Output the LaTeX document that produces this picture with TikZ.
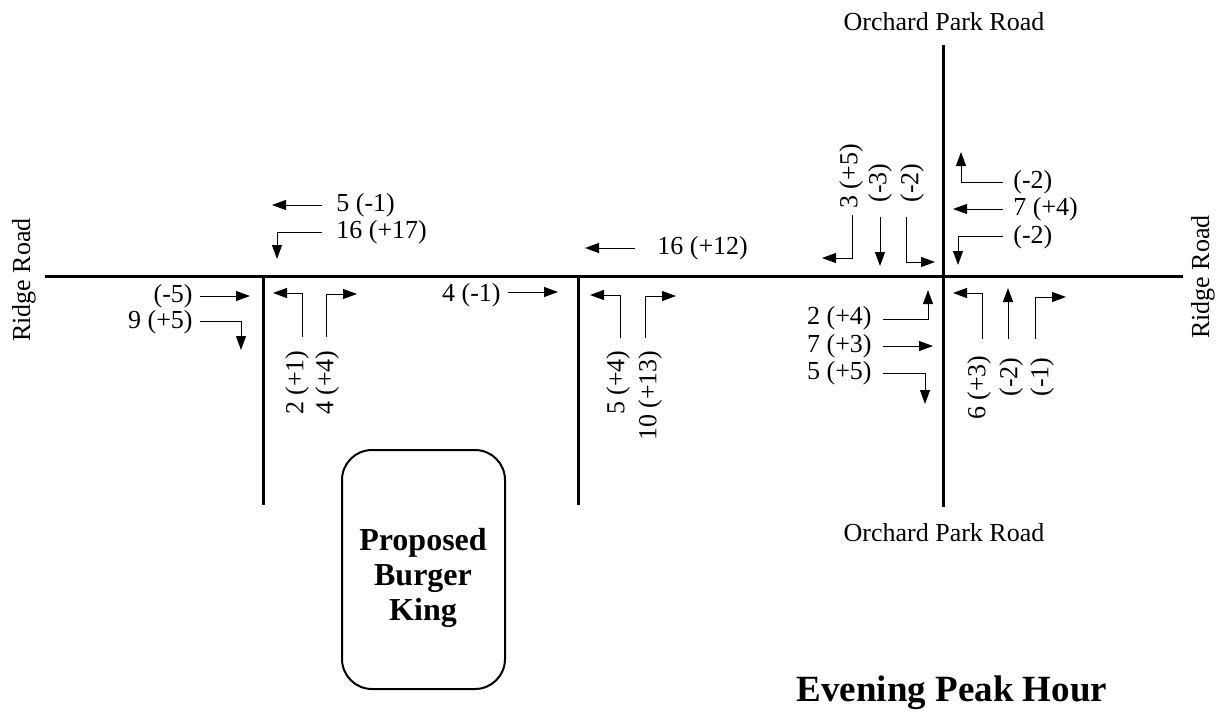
\documentclass[tikz,border=0pt]{standalone}
\usepackage{fontspec}
\setmainfont{Liberation Serif}
\usetikzlibrary{arrows.meta}
\tikzset{
    road/.style={line width=1.5pt},
    turn/.style={line width=0.5pt, -{Triangle[length=7pt,width=5pt]}},
    vol/.style={font=\fontsize{13}{15}\selectfont, inner sep=0pt},
    vvol/.style={vol, rotate=90},
}
\begin{document}
\begin{tikzpicture}[x=0.5pt, y=-0.5pt]
\useasboundingbox (0,0) rectangle (1220,717);
% roads
\draw[road] (45,276) -- (1183,276);
\draw[road] (263,276) -- (263,505);
\draw[road] (578,276) -- (578,505);
\draw[road] (943,45) -- (943,507);

\node[vvol] (ridgeW) at (24,280) {Ridge Road};
\node[vvol] (ridgeE) at (1203,277) {Ridge Road};
\node[vol] (orchN) at (944,22) {Orchard Park Road};
\node[vol] (orchS) at (944,533) {Orchard Park Road};

% west driveway
\draw[turn] (322,205) -- (272,205);
\node[vol, anchor=west] (wdA) at (336,205) {5 (-1)};
\draw[turn] (322,232) -| (277,259);
\node[vol, anchor=west] (wdB) at (336,232) {16 (+17)};
\draw[turn] (200,296) -- (250,296);
\node[vol, anchor=east] (wdC) at (193,296) {(-5)};
\draw[turn] (200,321) -| (241,350);
\node[vol, anchor=east] (wdD) at (193,322) {9 (+5)};
\draw[turn] (302,337) |- (273,293);
\node[vvol, anchor=east] (wdE) at (297,350) {2 (+1)};
\draw[turn] (326,337) |- (357,294);
\node[vvol, anchor=east] (wdF) at (327,350) {4 (+4)};

% east driveway
\draw[turn] (635,248) -- (585,248);
\node[vol, anchor=west] (edA) at (657,248) {16 (+12)};
\draw[turn] (508,292) -- (558,292);
\node[vol, anchor=east] (edB) at (501,295) {4 (-1)};
\draw[turn] (620,338) |- (590,295);
\node[vvol, anchor=east] (edC) at (618,350) {5 (+4)};
\draw[turn] (645,338) |- (676,296);
\node[vvol, anchor=east] (edD) at (650,350) {10 (+13)};

% Orchard Park Road
\draw[turn] (852,215) |- (822,258);
\node[vvol, anchor=west] (opA) at (851,209) {3 (+5)};
\draw[turn] (880,217) -- (880,266);
\node[vvol, anchor=west] (opB) at (880,203) {(-3)};
\draw[turn] (906,217) |- (935,262);
\node[vvol, anchor=west] (opC) at (912,203) {(-2)};

\draw[turn] (1003,182) -| (961,152);
\node[vol, anchor=west] (opD) at (1013,182) {(-2)};
\draw[turn] (1003,209) -- (953,209);
\node[vol, anchor=west] (opE) at (1013,209) {7 (+4)};
\draw[turn] (1003,236) -| (958,265);
\node[vol, anchor=west] (opF) at (1013,237) {(-2)};

\draw[turn] (883,319) -| (928,290);
\node[vol, anchor=east] (opG) at (872,318) {2 (+4)};
\draw[turn] (883,346) -- (933,346);
\node[vol, anchor=east] (opH) at (872,346) {7 (+3)};
\draw[turn] (883,373) -| (925,404);
\node[vol, anchor=east] (opI) at (872,373) {5 (+5)};

\draw[turn] (982,339) |- (953,293);
\node[vvol, anchor=east] (opJ) at (979,355) {6 (+3)};
\draw[turn] (1008,339) -- (1008,288);
\node[vvol, anchor=east] (opK) at (1011,357) {(-2)};
\draw[turn] (1035,339) |- (1066,297);
\node[vvol, anchor=east] (opL) at (1042,357) {(-1)};

% site
\draw[line width=1pt, rounded corners=15pt] (342,450) rectangle (505,689);
\node[font=\bfseries\fontsize{16}{17.5}\selectfont, align=center] (bk) at (423,578) {Proposed\\Burger\\King};
\node[font=\bfseries\fontsize{18.5}{20}\selectfont] (peak) at (952,693) {Evening Peak Hour};
\end{tikzpicture}
\end{document}
